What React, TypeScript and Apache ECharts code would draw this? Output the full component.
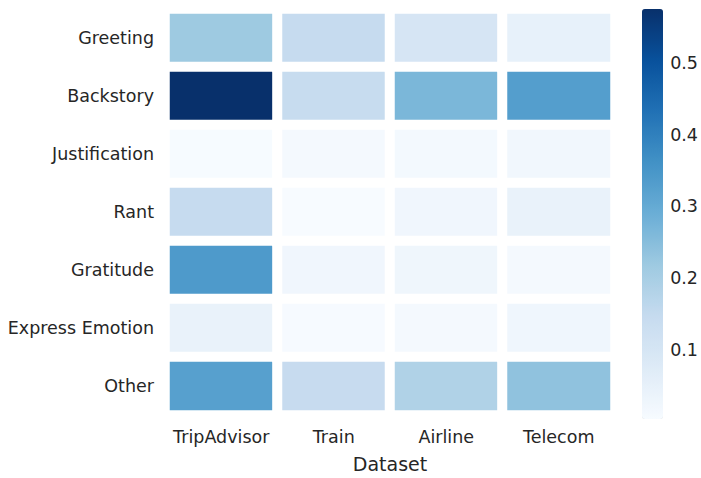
import React, { useEffect, useRef } from "react";
import * as echarts from "echarts";

const datasets = ["TripAdvisor", "Train", "Airline", "Telecom"];
const acts = ["Greeting", "Backstory", "Justification", "Rant", "Gratitude", "Express Emotion", "Other"];
const tripAdvisor = [0.218, 0.575, 0.006, 0.147, 0.34, 0.045, 0.325];
const train = [0.147, 0.144, 0.012, 0.004, 0.025, 0.008, 0.145];
const airline = [0.1, 0.267, 0.014, 0.025, 0.028, 0.012, 0.186];
const telecom = [0.05, 0.33, 0.022, 0.045, 0.012, 0.026, 0.238];
const colorbarTicks = [0.1, 0.2, 0.3, 0.4, 0.5];
const vMin = 0.004;
const vMax = 0.575;

const blues = ["#f7fbff", "#deebf7", "#c6dbef", "#9ecae1", "#6baed6", "#4292c6", "#2171b5", "#08519c", "#08306b"];
const FONT = "DejaVu Sans";
const TXT = "#262626";
const FS = 17.5;

export default function App() {
  const ref = useRef<HTMLDivElement>(null);
  useEffect(() => {
    if (!ref.current) return;
    document.body.style.margin = "0";
    document.body.style.overflow = "hidden";
    const chart = echarts.init(ref.current, null, { renderer: "svg" });
    const cols = [tripAdvisor, train, airline, telecom];
    const data: [number, number, number][] = [];
    cols.forEach((col, xi) => col.forEach((v, yi) => data.push([xi, yi, v])));
    chart.setOption({
      animation: false,
      backgroundColor: "#ffffff",
      textStyle: { fontFamily: FONT },
      grid: [
        { left: 165, top: 9, width: 450, height: 410 },
        { left: 642, top: 9, width: 21, height: 410 },
      ],
      xAxis: [
        {
          type: "category",
          gridIndex: 0,
          data: datasets,
          axisLine: { show: false },
          axisTick: { show: false },
          splitLine: { show: false },
          axisLabel: { color: TXT, fontSize: FS, fontFamily: FONT, margin: 13, interval: 0 },
          name: "Dataset",
          nameLocation: "middle",
          nameGap: 39,
          nameTextStyle: { color: TXT, fontSize: 19, fontFamily: FONT },
        },
        { type: "value", gridIndex: 1, show: false, min: 0, max: 1 },
      ],
      yAxis: [
        {
          type: "category",
          gridIndex: 0,
          data: acts,
          inverse: true,
          axisLine: { show: false },
          axisTick: { show: false },
          splitLine: { show: false },
          axisLabel: { color: TXT, fontSize: FS, fontFamily: FONT, margin: 11, interval: 0 },
        },
        {
          type: "value",
          gridIndex: 1,
          position: "right",
          min: vMin,
          max: vMax,
          axisLine: { show: false },
          axisTick: { show: false },
          splitLine: { show: false },
          axisLabel: {
            color: TXT,
            fontSize: FS,
            fontFamily: FONT,
            margin: 10,
            customValues: colorbarTicks,
            formatter: (v: number) => v.toFixed(1),
          },
        },
      ],
      visualMap: {
        type: "continuous",
        min: vMin,
        max: vMax,
        left: 642,
        top: 9,
        itemWidth: 21,
        itemHeight: 410,
        padding: 0,
        calculable: false,
        hoverLink: false,
        seriesIndex: 0,
        inRange: { color: blues },
      },
      series: [
        {
          type: "heatmap",
          xAxisIndex: 0,
          yAxisIndex: 0,
          data,
          itemStyle: { borderColor: "#ffffff", borderWidth: 10 },
          label: { show: false },
          emphasis: { disabled: true },
        },
      ],
    });
    return () => chart.dispose();
  }, []);
  return <div ref={ref} style={{ width: 701, height: 478, overflow: "hidden" }} />;
}
